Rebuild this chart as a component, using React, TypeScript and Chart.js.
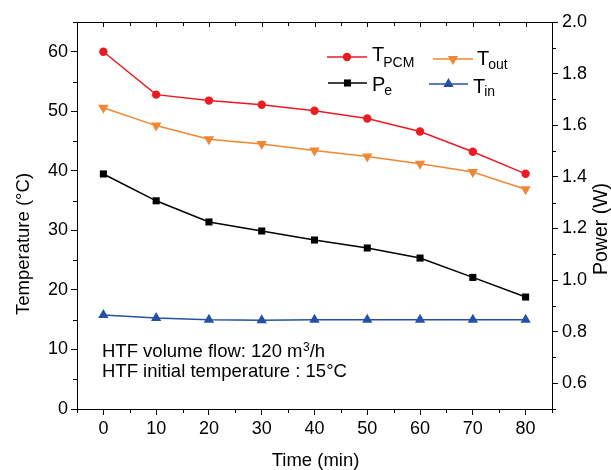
import React, { useEffect, useRef } from 'react';
import { Chart, registerables } from 'chart.js';

Chart.register(...registerables);

const FONT = '"Liberation Sans", Arial, Helvetica, sans-serif';

// ---- data ----
const timeMin = [0, 10, 20, 30, 40, 50, 60, 70, 80];
const tPCM = [60.0, 52.8, 51.8, 51.1, 50.1, 48.8, 46.6, 43.2, 39.5];
const tOut = [50.6, 47.6, 45.3, 44.5, 43.4, 42.4, 41.2, 39.8, 36.9];
const pE = [1.411, 1.307, 1.225, 1.19, 1.155, 1.124, 1.085, 1.01, 0.934];
const tIn = [15.8, 15.3, 15.0, 14.9, 15.0, 15.0, 15.0, 15.0, 15.0];

const xTickValues = [0, 10, 20, 30, 40, 50, 60, 70, 80];
const xMinorValues = [-5, 5, 15, 25, 35, 45, 55, 65, 75, 85];
const tempTickValues = [0, 10, 20, 30, 40, 50, 60];
const tempMinorValues = [5, 15, 25, 35, 45, 55, 65];
const powerTickValues = [0.6, 0.8, 1.0, 1.2, 1.4, 1.6, 1.8, 2.0];
const powerMinorValues = [0.5, 0.7, 0.9, 1.1, 1.3, 1.5, 1.7, 1.9];

const xTitle = 'Time (min)';
const leftTitle = 'Temperature (°C)';
const rightTitle = 'Power (W)';
const noteLine1 = 'HTF volume flow: 120 m';
const noteLine1Sup = '3';
const noteLine1End = '/h';
const noteLine2 = 'HTF initial temperature : 15°C';

const RED = '#ea1b23';
const ORANGE = '#ef8733';
const BLACK = '#000000';
const BLUE = '#2451a5';

function pts(ys: number[]) {
  return timeMin.map((t, i) => ({ x: t, y: ys[i] }));
}

function drawMarker(ctx: CanvasRenderingContext2D, kind: string, x: number, y: number, r: number, color: string) {
  ctx.save();
  ctx.fillStyle = color;
  ctx.beginPath();
  if (kind === 'circle') {
    ctx.arc(x, y, r, 0, Math.PI * 2);
  } else if (kind === 'rect') {
    const s = Math.SQRT1_2 * r;
    ctx.rect(x - s, y - s, 2 * s, 2 * s);
  } else if (kind === 'tri') {
    const h = r;
    ctx.moveTo(x, y - h);
    ctx.lineTo(x + h * Math.sin((2 * Math.PI) / 3), y + h * 0.5);
    ctx.lineTo(x - h * Math.sin((2 * Math.PI) / 3), y + h * 0.5);
    ctx.closePath();
  } else if (kind === 'tridown') {
    const h = r;
    ctx.moveTo(x, y + h);
    ctx.lineTo(x + h * Math.sin((2 * Math.PI) / 3), y - h * 0.5);
    ctx.lineTo(x - h * Math.sin((2 * Math.PI) / 3), y - h * 0.5);
    ctx.closePath();
  }
  ctx.fill();
  ctx.restore();
}

const framePlugin = {
  id: 'frameDecor',
  afterDraw(chart: any) {
    const ctx: CanvasRenderingContext2D = chart.ctx;
    const { left, right, top, bottom } = chart.chartArea;
    const xs = chart.scales.x;
    const ys = chart.scales.y;
    const y1 = chart.scales.y1;
    const al = (v: number) => Math.round(v) + 0.5;
    ctx.save();
    ctx.strokeStyle = '#000';
    ctx.lineWidth = 1;
    ctx.beginPath();
    // top frame line
    ctx.moveTo(left, al(top));
    ctx.lineTo(right + 1, al(top));
    // bottom minor ticks (outward)
    xMinorValues.forEach((v) => {
      const px = al(xs.getPixelForValue(v));
      ctx.moveTo(px, bottom);
      ctx.lineTo(px, bottom + 4);
    });
    // top ticks (inward)
    xTickValues.forEach((v) => {
      const px = al(xs.getPixelForValue(v));
      ctx.moveTo(px, top);
      ctx.lineTo(px, top + 5);
    });
    xMinorValues.forEach((v) => {
      const px = al(xs.getPixelForValue(v));
      ctx.moveTo(px, top);
      ctx.lineTo(px, top + 4);
    });
    // left minor ticks
    tempMinorValues.forEach((v) => {
      const py = al(ys.getPixelForValue(v));
      ctx.moveTo(left - 4, py);
      ctx.lineTo(left, py);
    });
    // right minor ticks
    powerMinorValues.forEach((v) => {
      const py = al(y1.getPixelForValue(v));
      ctx.moveTo(right, py);
      ctx.lineTo(right + 4, py);
    });
    ctx.stroke();

    // axis titles
    ctx.fillStyle = '#000';
    ctx.font = `18.5px ${FONT}`;
    ctx.textAlign = 'center';
    ctx.textBaseline = 'alphabetic';
    ctx.fillText(xTitle, (left + right) / 2 + 1, 466);

    ctx.save();
    ctx.translate(29, 244);
    ctx.rotate(-Math.PI / 2);
    ctx.textBaseline = 'alphabetic';
    ctx.fillText(leftTitle, 0, 0);
    ctx.restore();

    ctx.save();
    ctx.translate(607, 229);
    ctx.rotate(-Math.PI / 2);
    ctx.font = `19.5px ${FONT}`;
    ctx.fillText(rightTitle, 0, 0);
    ctx.restore();

    // annotation
    ctx.textAlign = 'left';
    ctx.font = `18.5px ${FONT}`;
    let tx = 102;
    ctx.fillText(noteLine1, tx, 357);
    tx += ctx.measureText(noteLine1).width;
    ctx.font = `12px ${FONT}`;
    ctx.fillText(noteLine1Sup, tx + 0.5, 351);
    tx += ctx.measureText(noteLine1Sup).width + 0.5;
    ctx.font = `18.5px ${FONT}`;
    ctx.fillText(noteLine1End, tx, 357);
    ctx.fillText(noteLine2, 102, 377);

    // legend
    const entries = [
      { color: RED, kind: 'circle', r: 4.2, x0: 327, x1: 367, ly: 57, tx: 372, ty: 61, main: 'T', sub: 'PCM', sy: 67 },
      { color: ORANGE, kind: 'tridown', r: 6, x0: 433, x1: 473, ly: 59, tx: 477, ty: 65, main: 'T', sub: 'out', sy: 69 },
      { color: BLACK, kind: 'rect', r: 5, x0: 328, x1: 367, ly: 83, tx: 372, ty: 91, main: 'P', sub: 'e', sy: 95 },
      { color: BLUE, kind: 'tri', r: 6, x0: 429, x1: 468, ly: 84, tx: 473, ty: 93, main: 'T', sub: 'in', sy: 96 },
    ];
    entries.forEach((e) => {
      ctx.strokeStyle = e.color;
      ctx.lineWidth = 1.5;
      ctx.beginPath();
      ctx.moveTo(e.x0, e.ly);
      ctx.lineTo(e.x1, e.ly);
      ctx.stroke();
      drawMarker(ctx, e.kind, (e.x0 + e.x1) / 2, e.ly, e.r, e.color);
      ctx.fillStyle = '#000';
      ctx.font = `20px ${FONT}`;
      ctx.fillText(e.main, e.tx, e.ty);
      const w = ctx.measureText(e.main).width;
      ctx.font = `14px ${FONT}`;
      ctx.fillText(e.sub, e.tx + w - 1, e.sy);
    });
    ctx.restore();
  },
};

export default function App() {
  const canvasRef = useRef<HTMLCanvasElement | null>(null);

  useEffect(() => {
    document.body.style.margin = '0';
    const canvas = canvasRef.current;
    if (!canvas) return;
    const tickFont = { family: FONT, size: 18 };
    const common = {
      borderWidth: 1.5,
      pointBorderWidth: 0,
      fill: false,
      tension: 0,
    };
    const chart = new Chart(canvas, {
      type: 'line',
      data: {
        datasets: [
          {
            ...common,
            label: 'T_in',
            data: pts(tIn),
            yAxisID: 'y',
            borderColor: BLUE,
            backgroundColor: BLUE,
            pointBackgroundColor: BLUE,
            pointStyle: 'triangle',
            pointRadius: 6,
          },
          {
            ...common,
            label: 'P_e',
            data: pts(pE),
            yAxisID: 'y1',
            borderColor: BLACK,
            backgroundColor: BLACK,
            pointBackgroundColor: BLACK,
            pointStyle: 'rect',
            pointRadius: 5,
          },
          {
            ...common,
            label: 'T_out',
            data: pts(tOut),
            yAxisID: 'y',
            borderColor: ORANGE,
            backgroundColor: ORANGE,
            pointBackgroundColor: ORANGE,
            pointStyle: 'triangle',
            pointRotation: 180,
            pointRadius: 6,
          },
          {
            ...common,
            label: 'T_PCM',
            data: pts(tPCM),
            yAxisID: 'y',
            borderColor: RED,
            backgroundColor: RED,
            pointBackgroundColor: RED,
            pointStyle: 'circle',
            pointRadius: 4.2,
          },
        ],
      },
      options: {
        responsive: false,
        animation: false,
        devicePixelRatio: 1,
        layout: { padding: { top: 22, left: 0, right: 0, bottom: 0 } },
        plugins: {
          legend: { display: false },
          tooltip: { enabled: false },
        },
        scales: {
          x: {
            type: 'linear',
            position: 'bottom',
            min: -5,
            max: 85,
            afterBuildTicks: (s: any) => {
              s.ticks = xTickValues.map((v) => ({ value: v }));
            },
            afterFit: (s: any) => {
              s.height = 61;
            },
            ticks: {
              font: tickFont,
              color: '#000',
              padding: 3,
              maxRotation: 0,
              autoSkip: false,
            },
            grid: {
              display: true,
              drawOnChartArea: false,
              drawTicks: true,
              tickLength: 6,
              color: '#000',
              lineWidth: 1,
            },
            border: { display: true, color: '#000', width: 1 },
          },
          y: {
            type: 'linear',
            position: 'left',
            min: 0,
            max: 65,
            afterBuildTicks: (s: any) => {
              s.ticks = tempTickValues.map((v) => ({ value: v }));
            },
            afterFit: (s: any) => {
              s.width = 77;
            },
            ticks: {
              font: tickFont,
              color: '#000',
              padding: 3,
              autoSkip: false,
            },
            grid: {
              display: true,
              drawOnChartArea: false,
              drawTicks: true,
              tickLength: 6,
              color: '#000',
              lineWidth: 1,
            },
            border: { display: true, color: '#000', width: 1 },
          },
          y1: {
            type: 'linear',
            position: 'right',
            min: 0.5,
            max: 2.0,
            afterBuildTicks: (s: any) => {
              s.ticks = powerTickValues.map((v) => ({ value: v }));
            },
            afterFit: (s: any) => {
              s.width = 59;
            },
            ticks: {
              font: tickFont,
              color: '#000',
              padding: 4,
              autoSkip: false,
              callback: (v: any) => Number(v).toFixed(1),
            },
            grid: {
              display: true,
              drawOnChartArea: false,
              drawTicks: true,
              tickLength: 6,
              color: '#000',
              lineWidth: 1,
            },
            border: { display: true, color: '#000', width: 1 },
          },
        },
      },
      plugins: [framePlugin],
    } as any);
    return () => chart.destroy();
  }, []);

  return (
    <div style={{ position: 'absolute', left: 0, top: 0, width: 611, height: 470, background: '#fff' }}>
      <canvas ref={canvasRef} width={611} height={470} style={{ width: 611, height: 470, display: 'block' }} />
    </div>
  );
}
